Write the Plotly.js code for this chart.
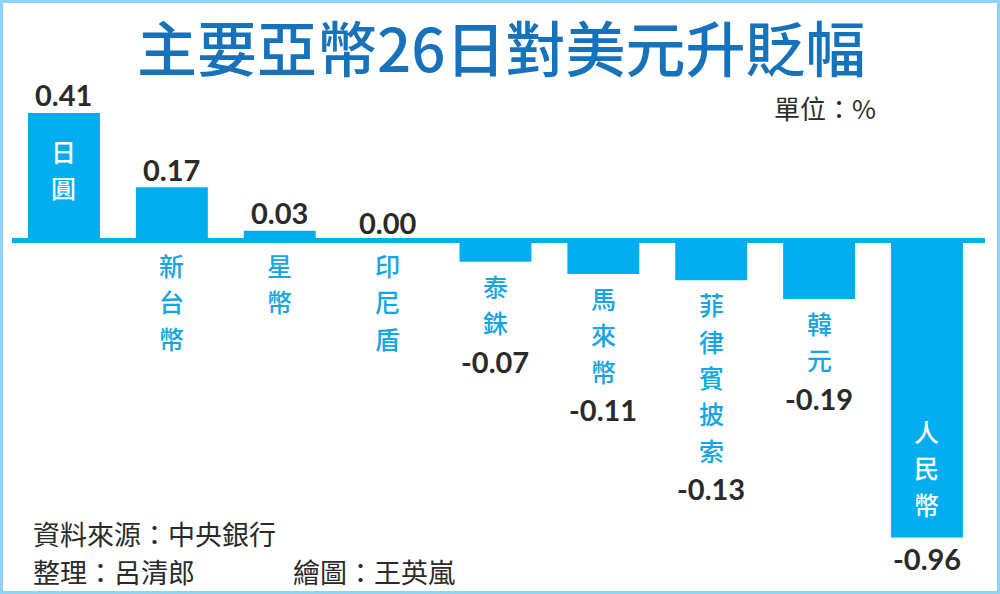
<!DOCTYPE html>
<html>
<head>
<meta charset="utf-8">
<script src="https://cdn.plot.ly/plotly-3.0.1.min.js"></script>
<style>
html,body{margin:0;padding:0;background:#fff;}
#wrap{position:relative;width:1000px;height:594px;}
#chart{width:1000px;height:594px;}
#frame{position:absolute;left:0;top:0;width:1000px;height:594px;box-sizing:border-box;border:3px solid #8fd4f5;pointer-events:none;}
</style>
</head>
<body>
<div id="wrap"><div id="chart"></div><div id="frame"></div></div>
<script>
// ---- data ----
const categories = ['日圓','新台幣','星幣','印尼盾','泰銖','馬來幣','菲律賓披索','韓元','人民幣'];
const values = [0.41, 0.17, 0.03, 0.00, -0.07, -0.11, -0.13, -0.19, -0.96];
const valueLabels = ['0.41','0.17','0.03','0.00','-0.07','-0.11','-0.13','-0.19','-0.96'];
const titleText = '主要亞幣26日對美元升貶幅';
const unitText = '單位：%';
const sourceText = '資料來源：中央銀行';
const editorText = '整理：呂清郎';
const artText = '繪圖：王英嵐';

// ---- styles ----
const BAR = '#00aeef';
const CAT = '#16a4e2';
const DARK = '#2a2a2a';
const CJK = '"Noto Sans CJK TC", "Noto Sans CJK SC", sans-serif';
const NUM = 'Lato, "Noto Sans", sans-serif';
const CFS = 25;        // category font size
const PITCH = 36.3;    // vertical distance between stacked characters

const maxV = Math.max(...values), minV = Math.min(...values);
const annotations = [];

categories.forEach((cat, i) => {
  const v = values[i];
  const chars = Array.from(cat);
  const n = chars.length;
  const inside = (v === maxV || v === minV);
  const charAnn = (ch, y, shift, color) => annotations.push({
    x: i, y: y, xref: 'x', yref: 'y', text: ch, showarrow: false,
    xanchor: 'center', yanchor: 'middle', yshift: shift, borderpad: 0,
    font: {family: CJK, size: CFS, color: color, weight: 500}
  });
  const valAnn = (y, shift) => annotations.push({
    x: i, y: y, xref: 'x', yref: 'y', text: valueLabels[i], showarrow: false,
    xanchor: 'center', yanchor: 'middle', yshift: shift, borderpad: 0,
    font: {family: NUM, size: 29, color: DARK, weight: 'bold'}
  });
  if (v >= 0) {
    valAnn(v, 18);
    if (inside) {
      chars.forEach((ch, k) => charAnn(ch, v, -(38 + k * PITCH), '#ffffff'));
    } else {
      chars.forEach((ch, k) => charAnn(ch, 0, -(25 + k * PITCH), CAT));
    }
  } else {
    if (inside) {
      chars.forEach((ch, k) => charAnn(ch, v, 34 + (n - 1 - k) * PITCH, '#ffffff'));
      valAnn(v, -21);
    } else {
      chars.forEach((ch, k) => charAnn(ch, v, -(24 + k * PITCH), CAT));
      valAnn(v, -(24 + (n - 1) * PITCH + 39));
    }
  }
});

const paperX = px => (px - 12) / 973;
const paperY = py => 1 - py / 594;

annotations.push({xref:'paper', yref:'paper', x: paperX(501), y: paperY(45), text: titleText,
  showarrow:false, xanchor:'center', yanchor:'middle', borderpad: 0,
  font:{family:CJK, size:60, color:'#1672ba', weight: 500}});
annotations.push({xref:'paper', yref:'paper', x: paperX(877), y: paperY(107), text: unitText,
  showarrow:false, xanchor:'right', yanchor:'middle', borderpad: 0, font:{family:CJK, size:26, color:DARK}});
annotations.push({xref:'paper', yref:'paper', x: paperX(32), y: paperY(533), text: sourceText,
  showarrow:false, xanchor:'left', yanchor:'middle', borderpad: 0, font:{family:CJK, size:27, color:DARK}});
annotations.push({xref:'paper', yref:'paper', x: paperX(32), y: paperY(571), text: editorText,
  showarrow:false, xanchor:'left', yanchor:'middle', borderpad: 0, font:{family:CJK, size:27, color:DARK}});
annotations.push({xref:'paper', yref:'paper', x: paperX(292), y: paperY(571), text: artText,
  showarrow:false, xanchor:'left', yanchor:'middle', borderpad: 0, font:{family:CJK, size:27, color:DARK}});

const trace = {
  type: 'bar',
  x: categories.map((c, i) => i),
  y: values,
  marker: {color: BAR, line: {width: 0}},
  hoverinfo: 'skip'
};

const layout = {
  width: 1000, height: 594,
  margin: {l: 12, r: 15, t: 0, b: 0},
  paper_bgcolor: '#ffffff', plot_bgcolor: '#ffffff',
  showlegend: false,
  bargap: 0.333,
  xaxis: {range: [-0.482, 8.538], showticklabels: false, showgrid: false, zeroline: false, showline: false, ticks: '', fixedrange: true},
  yaxis: {range: [-354/310, 240/310], showticklabels: false, showgrid: false, zeroline: true, zerolinecolor: BAR, zerolinewidth: 5, showline: false, ticks: '', fixedrange: true},
  annotations: annotations
};

Plotly.newPlot('chart', [trace], layout, {displayModeBar: false, staticPlot: true});
</script>
</body>
</html>
